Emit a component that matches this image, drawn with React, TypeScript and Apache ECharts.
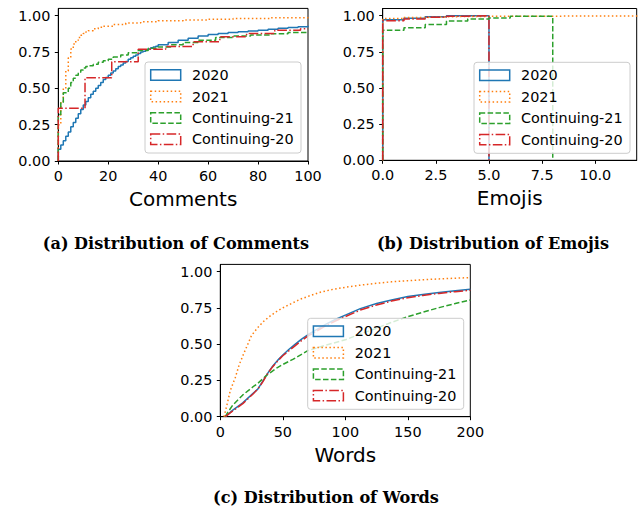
import React, { useEffect, useRef } from "react";
import * as echarts from "echarts";

// ---------- data ----------
const seriesNames = ["2020", "2021", "Continuing-21", "Continuing-20"];
const seriesColors = ["#1f77b4", "#ff7f0e", "#2ca02c", "#d62728"];

// (a) Comments — cumulative step data [x, y]
const comments2020: number[][] = [
  [0, 0], [0, 0.08], [1, 0.11], [2, 0.14], [3, 0.17], [4, 0.2], [5, 0.235], [6, 0.265], [7, 0.295],
  [8, 0.325], [9, 0.355], [10, 0.385], [11, 0.41], [12, 0.435], [13, 0.46], [14, 0.48], [15, 0.5],
  [16, 0.52], [17, 0.54], [18, 0.56], [19, 0.575], [20, 0.59], [21, 0.605], [22, 0.62], [23, 0.635],
  [24, 0.65], [25, 0.66], [26, 0.675], [27, 0.685], [28, 0.7], [29, 0.71], [30, 0.72], [31, 0.73],
  [32, 0.74], [33, 0.75], [34, 0.755], [35, 0.765], [36, 0.77], [37, 0.78], [38, 0.785], [39, 0.79],
  [40, 0.8], [44, 0.815], [48, 0.83], [52, 0.845], [56, 0.86], [60, 0.87], [64, 0.877], [68, 0.885],
  [72, 0.89], [76, 0.895], [80, 0.9], [84, 0.907], [88, 0.913], [92, 0.918], [96, 0.924], [100, 0.93],
];
const comments2021: number[][] = [
  [0, 0], [0, 0.25], [1, 0.4], [2, 0.5], [3, 0.62], [4, 0.71], [5, 0.77], [6, 0.805], [7, 0.83],
  [8, 0.85], [9, 0.865], [10, 0.877], [11, 0.888], [12, 0.897], [14, 0.91], [16, 0.92], [18, 0.928],
  [22, 0.94], [27, 0.95], [33, 0.958], [40, 0.965], [50, 0.97], [60, 0.975], [70, 0.98], [85, 0.985],
  [100, 0.99],
];
const commentsC21: number[][] = [
  [0, 0], [0, 0.32], [1, 0.4], [2, 0.47], [4, 0.5], [5, 0.54], [6, 0.57], [7, 0.59], [8, 0.61],
  [9, 0.627], [10, 0.64], [11, 0.65], [12, 0.655], [14, 0.665], [16, 0.68], [18, 0.69], [20, 0.7],
  [22, 0.715], [25, 0.73], [28, 0.745], [32, 0.76], [36, 0.775], [40, 0.785], [45, 0.8], [50, 0.815],
  [56, 0.83], [63, 0.85], [70, 0.86], [77, 0.867], [85, 0.875], [92, 0.885], [100, 0.89],
];
const commentsC20: number[][] = [
  [0, 0], [0, 0.363], [10.7, 0.573], [21.4, 0.683], [32, 0.769], [43, 0.787], [54, 0.82],
  [64.7, 0.855], [75.4, 0.878], [86.7, 0.9], [97, 0.91], [100, 0.91],
];

// (b) Emojis
const emojis2020: number[][] = [[0, 0], [0, 0.973], [1, 0.982], [2, 0.993], [3, 1.0], [5, 1.0], [5, 0]];
const emojis2021: number[][] = [
  [0, 0], [0, 0.98], [1, 0.988], [2, 0.992], [3, 0.995], [4, 0.996], [6, 0.997], [8, 0.998],
  [10, 0.999], [14, 0.999],
];
const emojisC21: number[][] = [
  [0, 0], [0, 0.9], [1, 0.917], [2, 0.94], [3, 0.963], [4, 0.977], [5, 0.984], [6, 0.997],
  [8, 0.997], [8, 0],
];
const emojisC20: number[][] = [
  [0, 0], [0, 0.965], [1, 0.978], [2, 0.99], [3, 0.997], [4, 1.0], [5, 1.0], [5, 0],
];

// (c) Words
const words2020: number[][] = [
  [4, 0], [10, 0.045], [18, 0.095], [26, 0.16], [30, 0.19], [34, 0.245], [38, 0.3], [42, 0.35],
  [46, 0.39], [50, 0.425], [55, 0.465], [60, 0.5], [65, 0.535], [70, 0.565], [77, 0.6], [85, 0.64],
  [92, 0.67], [100, 0.7], [112, 0.745], [125, 0.78], [137, 0.805], [150, 0.828], [162, 0.843],
  [175, 0.857], [188, 0.868], [200, 0.878],
];
const words2021: number[][] = [
  [3, 0], [5, 0.07], [8, 0.18], [12, 0.27], [15, 0.355], [18, 0.42], [22, 0.5], [25, 0.56],
  [30, 0.615], [35, 0.66], [40, 0.695], [45, 0.725], [50, 0.75], [58, 0.785], [64, 0.81], [72, 0.835],
  [80, 0.858], [90, 0.878], [100, 0.892], [112, 0.907], [125, 0.92], [137, 0.93], [150, 0.938],
  [162, 0.944], [175, 0.95], [188, 0.955], [200, 0.959],
];
const wordsC21: number[][] = [
  [4, 0], [6, 0.03], [10, 0.08], [18, 0.15], [26, 0.205], [30, 0.23], [37, 0.285], [45, 0.335],
  [50, 0.36], [58, 0.395], [70, 0.455], [85, 0.495], [100, 0.53], [112, 0.57], [125, 0.61],
  [137, 0.65], [150, 0.69], [162, 0.72], [175, 0.752], [188, 0.78], [200, 0.805],
];
const wordsC20: number[][] = [
  [4, 0], [10, 0.04], [18, 0.09], [26, 0.155], [30, 0.19], [34, 0.24], [38, 0.3], [42, 0.345],
  [46, 0.385], [50, 0.42], [55, 0.455], [60, 0.49], [65, 0.525], [70, 0.555], [77, 0.59], [85, 0.63],
  [92, 0.66], [100, 0.69], [112, 0.735], [125, 0.77], [137, 0.797], [150, 0.82], [162, 0.836],
  [175, 0.85], [188, 0.862], [200, 0.872],
];

const yTicks = [0, 0.25, 0.5, 0.75, 1.0];
const xTicksComments = [0, 20, 40, 60, 80, 100];
const xTicksEmojis = [0, 2.5, 5, 7.5, 10];
const xTicksWords = [0, 50, 100, 150, 200];
const axisTitles = ["Comments", "Emojis", "Words"];
const captions = [
  "(a) Distribution of Comments",
  "(b) Distribution of Emojis",
  "(c) Distribution of Words",
];

// ---------- styling ----------
const dashes: any[] = ["solid", [1.5, 2.5], [5.5, 2.4], [9.6, 2.4, 1.5, 2.4]];
const SANS = '"DejaVu Sans", sans-serif';

const App: React.FC = () => {
  const ref = useRef<HTMLDivElement>(null);

  useEffect(() => {
    if (!ref.current) return;
    const chart = echarts.init(ref.current, undefined, { renderer: "svg" });

    const grids = [
      { left: 58.3, top: 8.4, width: 249.7, height: 152.6 },
      { left: 382.7, top: 8.5, width: 254, height: 151.8 },
      { left: 220.3, top: 264.4, width: 250, height: 152.3 },
    ].map((g) => ({ ...g, show: true, borderColor: "#000", borderWidth: 1, containLabel: false }));

    const xMax = [100, 11.95, 200];
    const xTicks = [xTicksComments, xTicksEmojis, xTicksWords];
    const xFmt = [
      (v: number) => String(Math.round(v)),
      (v: number) => v.toFixed(1),
      (v: number) => String(Math.round(v)),
    ];

    const xAxes = [0, 1, 2].map((i) => ({
      type: "value",
      gridIndex: i,
      min: 0,
      max: xMax[i],
      name: axisTitles[i],
      nameLocation: "middle",
      nameGap: 28,
      nameTextStyle: { fontSize: 20, fontFamily: SANS, color: "#000" },
      axisLine: { show: true, onZero: false, lineStyle: { color: "#000", width: 1 } },
      axisTick: { show: true, length: 3.5, inside: false, customValues: xTicks[i], lineStyle: { color: "#000", width: 1 } },
      axisLabel: {
        show: true,
        customValues: xTicks[i],
        margin: 8,
        fontSize: 14.4,
        fontFamily: SANS,
        color: "#000",
        formatter: xFmt[i],
      },
      splitLine: { show: false },
    }));

    const yAxes = [0, 1, 2].map((i) => ({
      type: "value",
      gridIndex: i,
      min: 0,
      max: 1.05,
      axisLine: { show: true, onZero: false, lineStyle: { color: "#000", width: 1 } },
      axisTick: { show: true, length: 3.5, inside: false, customValues: yTicks, lineStyle: { color: "#000", width: 1 } },
      axisLabel: {
        show: true,
        customValues: yTicks,
        margin: 8,
        fontSize: 14.4,
        fontFamily: SANS,
        color: "#000",
        formatter: (v: number) => v.toFixed(2),
      },
      splitLine: { show: false },
    }));

    const panels = [
      { data: [comments2020, comments2021, commentsC21, commentsC20], step: "end" },
      { data: [emojis2020, emojis2021, emojisC21, emojisC20], step: "end" },
      { data: [words2020, words2021, wordsC21, wordsC20], step: false },
    ];

    const series: any[] = [];
    panels.forEach((p, gi) => {
      p.data.forEach((d, si) => {
        series.push({
          type: "line",
          name: seriesNames[si],
          xAxisIndex: gi,
          yAxisIndex: gi,
          data: d,
          step: p.step,
          symbol: "none",
          showSymbol: false,
          clip: true,
          z: 2 + si,
          lineStyle: { color: seriesColors[si], width: 1.5, type: dashes[si] },
          itemStyle: { color: seriesColors[si] },
        });
      });
    });

    // legends (drawn as graphic groups)
    const legendBoxes = [
      { x: 145, y: 62 },
      { x: 474, y: 62.3 },
      { x: 307.7, y: 318.3 },
    ];
    const rowOffsets = [13, 34.5, 56, 77.3];
    const graphics: any[] = [];
    legendBoxes.forEach((b) => {
      graphics.push({
        type: "rect",
        z: 100,
        shape: { x: b.x, y: b.y, width: 156, height: 91, r: 3 },
        style: { fill: "rgba(255,255,255,0.8)", stroke: "#cccccc", lineWidth: 1 },
      });
      seriesNames.forEach((n, i) => {
        const cy = b.y + rowOffsets[i];
        graphics.push({
          type: "rect",
          z: 101,
          shape: { x: b.x + 5.7, y: cy - 5.2, width: 30, height: 10.4 },
          style: {
            fill: "none",
            stroke: seriesColors[i],
            lineWidth: 1.5,
            lineDash: dashes[i] === "solid" ? null : dashes[i],
          },
        });
        graphics.push({
          type: "text",
          z: 101,
          style: {
            x: b.x + 47,
            y: cy,
            text: n,
            font: `14.4px ${SANS}`,
            fill: "#000",
            textAlign: "left",
            textVerticalAlign: "middle",
          },
        });
      });
    });
    const capPos = [
      { x: 176, y: 243 },
      { x: 493, y: 243 },
      { x: 326, y: 497 },
    ];
    captions.forEach((c, i) => {
      graphics.push({
        type: "text",
        z: 101,
        style: {
          x: capPos[i].x,
          y: capPos[i].y,
          text: c,
          font: `bold 16.1px "DejaVu Serif", serif`,
          fill: "#000",
          textAlign: "center",
          textVerticalAlign: "middle",
        },
      });
    });

    chart.setOption({
      animation: false,
      backgroundColor: "#fff",
      grid: grids,
      xAxis: xAxes,
      yAxis: yAxes,
      series,
      graphic: graphics,
    });

    return () => chart.dispose();
  }, []);

  return (
    <div
      ref={ref}
      style={{ position: "fixed", left: 0, top: 0, width: 639, height: 512, background: "#fff" }}
    />
  );
};

export default App;
